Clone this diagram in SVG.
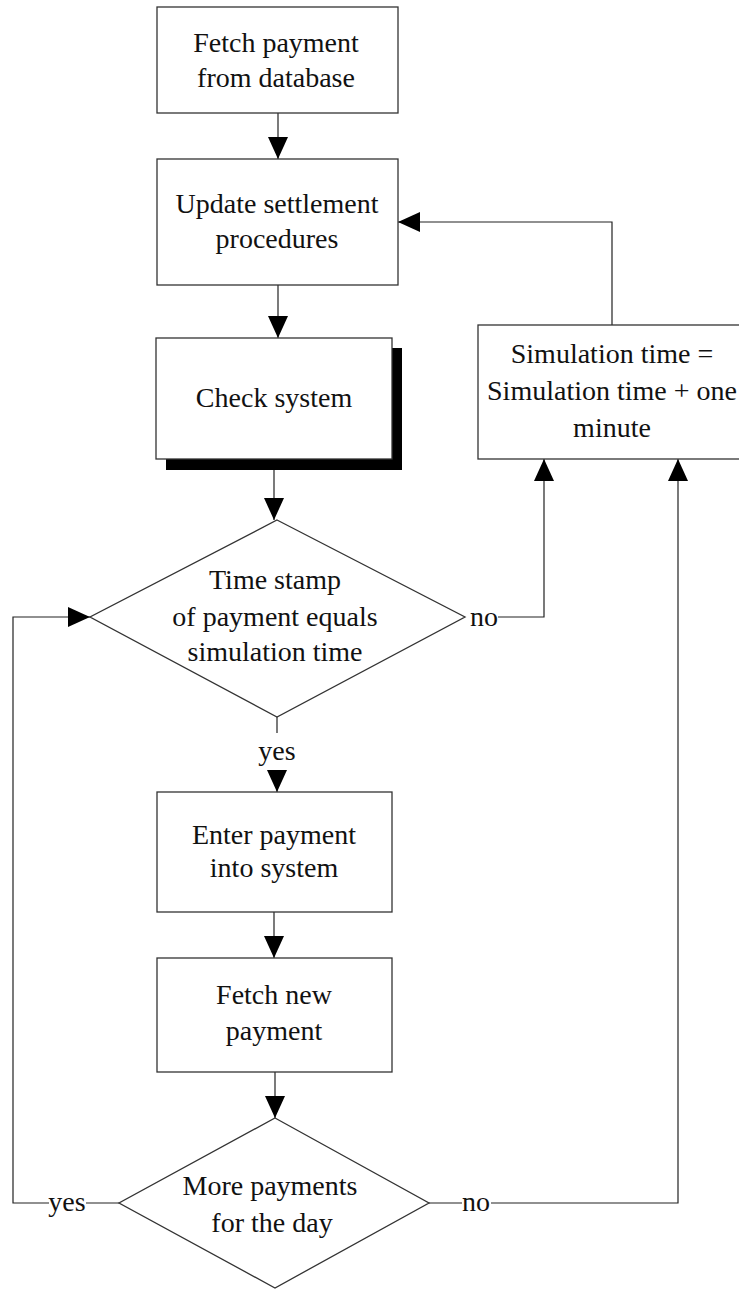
<svg xmlns="http://www.w3.org/2000/svg" width="739" height="1289" viewBox="0 0 739 1289">
<style>
.box{fill:#fff;stroke:#333;stroke-width:1.3}
.t{font-family:"Liberation Serif","Times New Roman",serif;font-size:28px;fill:#111;text-anchor:middle}
.c{fill:none;stroke:#222;stroke-width:1.2}
</style>
<defs>
<marker id="ah" markerUnits="userSpaceOnUse" markerWidth="22" markerHeight="20" refX="22" refY="10" orient="auto" viewBox="0 0 22 20">
<path d="M0,0 L22,10 L0,20 z" fill="#000"/>
</marker>
</defs>
<rect width="739" height="1289" fill="#fff"/>
<g id="connectors">
<path class="c" d="M278,113 V159" marker-end="url(#ah)"/>
<path class="c" d="M278,285 V338" marker-end="url(#ah)"/>
<path class="c" d="M274,470 V520" marker-end="url(#ah)"/>
<path class="c" d="M277,717 V733"/>
<path class="c" d="M277,770 V792" marker-end="url(#ah)"/>
<path class="c" d="M274,912 V958" marker-end="url(#ah)"/>
<path class="c" d="M275,1072 V1118" marker-end="url(#ah)"/>
<path class="c" d="M498,617 H544 V459" marker-end="url(#ah)"/>
<path class="c" d="M612,325 V222 H398" marker-end="url(#ah)"/>
<path class="c" d="M429,1203 H462"/>
<path class="c" d="M491,1203 H678 V459" marker-end="url(#ah)"/>
<path class="c" d="M119,1203 H86"/>
<path class="c" d="M49,1203 H13 V617 H90" marker-end="url(#ah)"/>
<text class="t" x="484" y="626">no</text>
<text class="t" x="277" y="760">yes</text>
<text class="t" x="476" y="1211">no</text>
<text class="t" x="67" y="1211">yes</text>
</g>
<g id="fetch-payment">
<rect class="box" x="157" y="7" width="241" height="106"/>
<text class="t" x="276" y="52">Fetch payment</text>
<text class="t" x="276" y="87">from database</text>
</g>
<g id="update-settlement">
<rect class="box" x="157" y="159" width="241" height="126"/>
<text class="t" x="277" y="213">Update settlement</text>
<text class="t" x="277" y="248">procedures</text>
</g>
<g id="check-system">
<rect x="166" y="348" width="236" height="122" fill="#000"/>
<rect class="box" x="156" y="338" width="236" height="121"/>
<text class="t" x="274" y="407">Check system</text>
</g>
<g id="time-stamp">
<polygon class="box" points="277,520 465,617 277,717 90,617"/>
<text class="t" x="275" y="589">Time stamp</text>
<text class="t" x="275" y="626">of payment equals</text>
<text class="t" x="275" y="661">simulation time</text>
</g>
<g id="simulation-time">
<rect class="box" x="478" y="325" width="268" height="134"/>
<text class="t" x="612" y="363">Simulation time =</text>
<text class="t" x="612" y="400">Simulation time + one</text>
<text class="t" x="612" y="437">minute</text>
</g>
<g id="enter-payment">
<rect class="box" x="157" y="792" width="235" height="120"/>
<text class="t" x="274" y="844">Enter payment</text>
<text class="t" x="274" y="877">into system</text>
</g>
<g id="fetch-new">
<rect class="box" x="157" y="958" width="235" height="114"/>
<text class="t" x="274" y="1004">Fetch new</text>
<text class="t" x="274" y="1040">payment</text>
</g>
<g id="more-payments">
<polygon class="box" points="275,1118 429,1203 275,1288 119,1203"/>
<text class="t" x="270" y="1195">More payments</text>
<text class="t" x="272" y="1232">for the day</text>
</g>
</svg>
